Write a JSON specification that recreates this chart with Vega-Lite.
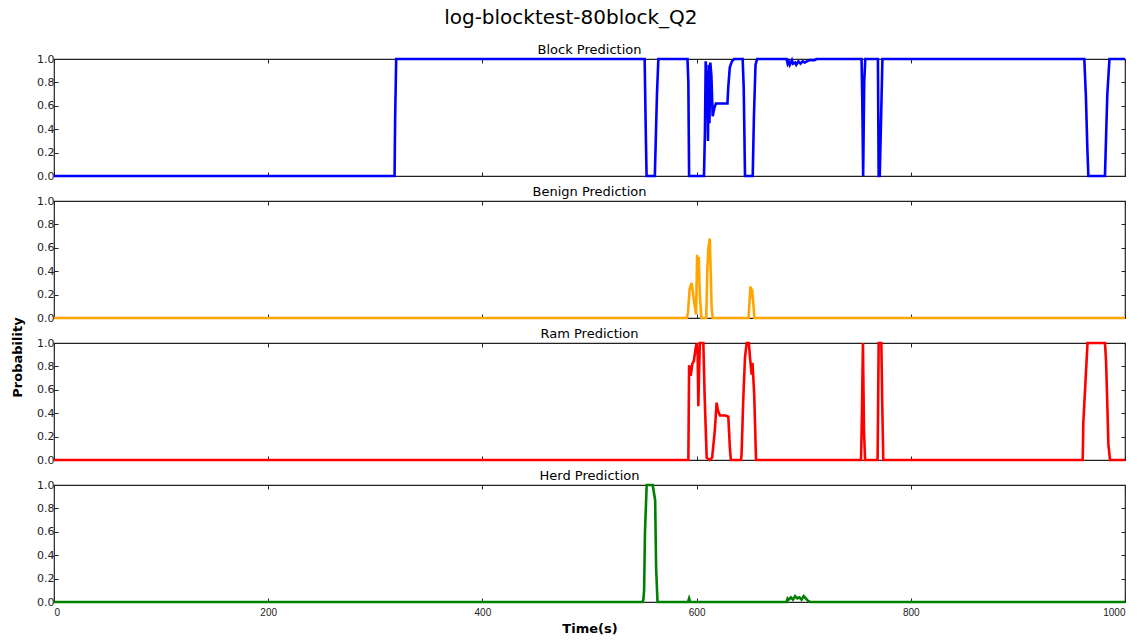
{
  "$schema": "https://vega.github.io/schema/vega-lite/v6.json",
  "padding": {"left": 10, "top": 8, "right": 5, "bottom": 5},
  "background": "white",
  "title": {"text": "log-blocktest-80block_Q2", "fontSize": 20, "fontWeight": "normal", "font": "DejaVu Sans", "anchor": "middle", "offset": 15, "color": "#000"},
  "datasets": {
    "d": [
      {"s":"block","t":0,"p":0},{"s":"block","t":318,"p":0},{"s":"block","t":318.5,"p":0.48},{"s":"block","t":319.5,"p":1},{"s":"block","t":551.5,"p":1},{"s":"block","t":552.5,"p":0.4},{"s":"block","t":553.3,"p":0},{"s":"block","t":561,"p":0},{"s":"block","t":562,"p":0.35},{"s":"block","t":563,"p":0.7},{"s":"block","t":564.3,"p":1},{"s":"block","t":591.5,"p":1},{"s":"block","t":592.3,"p":0.8},{"s":"block","t":593,"p":0},{"s":"block","t":606.9,"p":0},{"s":"block","t":607.8,"p":0.39},{"s":"block","t":608.5,"p":0.98},{"s":"block","t":609.3,"p":0.5},{"s":"block","t":610,"p":0.9},{"s":"block","t":610.6,"p":0.3},{"s":"block","t":611.3,"p":0.95},{"s":"block","t":612,"p":0.45},{"s":"block","t":612.8,"p":0.97},{"s":"block","t":613.8,"p":0.86},{"s":"block","t":615,"p":0.51},{"s":"block","t":616.5,"p":0.58},{"s":"block","t":618,"p":0.62},{"s":"block","t":628.8,"p":0.62},{"s":"block","t":629.5,"p":0.75},{"s":"block","t":631,"p":0.93},{"s":"block","t":633,"p":0.98},{"s":"block","t":635,"p":1},{"s":"block","t":643,"p":1},{"s":"block","t":644,"p":0.75},{"s":"block","t":645.2,"p":0},{"s":"block","t":652.4,"p":0},{"s":"block","t":653.5,"p":0.5},{"s":"block","t":655,"p":0.95},{"s":"block","t":656.5,"p":1},{"s":"block","t":684,"p":1},{"s":"block","t":685,"p":0.96},{"s":"block","t":686,"p":0.98},{"s":"block","t":687,"p":0.95},{"s":"block","t":689,"p":0.99},{"s":"block","t":690,"p":0.96},{"s":"block","t":692,"p":0.97},{"s":"block","t":693,"p":0.95},{"s":"block","t":695,"p":0.98},{"s":"block","t":697,"p":0.96},{"s":"block","t":699,"p":0.98},{"s":"block","t":701,"p":0.97},{"s":"block","t":703,"p":0.98},{"s":"block","t":705,"p":0.99},{"s":"block","t":710,"p":0.99},{"s":"block","t":712,"p":1},{"s":"block","t":754,"p":1},{"s":"block","t":754.7,"p":0.65},{"s":"block","t":755.5,"p":0},{"s":"block","t":756.5,"p":0.8},{"s":"block","t":757.5,"p":1},{"s":"block","t":769.3,"p":1},{"s":"block","t":770,"p":0},{"s":"block","t":771,"p":0},{"s":"block","t":772,"p":0.39},{"s":"block","t":773.5,"p":1},{"s":"block","t":962,"p":1},{"s":"block","t":963.5,"p":0.68},{"s":"block","t":964.8,"p":0.25},{"s":"block","t":965.8,"p":0},{"s":"block","t":981.3,"p":0},{"s":"block","t":982.5,"p":0.39},{"s":"block","t":983.5,"p":0.7},{"s":"block","t":985.5,"p":1},{"s":"block","t":1000,"p":1},
      {"s":"benign","t":0,"p":0},{"s":"benign","t":591,"p":0},{"s":"benign","t":592,"p":0.05},{"s":"benign","t":593.5,"p":0.25},{"s":"benign","t":595.3,"p":0.3},{"s":"benign","t":596.5,"p":0.22},{"s":"benign","t":598,"p":0.12},{"s":"benign","t":599.5,"p":0.03},{"s":"benign","t":600.5,"p":0.54},{"s":"benign","t":601.2,"p":0.35},{"s":"benign","t":602,"p":0.52},{"s":"benign","t":603,"p":0.2},{"s":"benign","t":604.5,"p":0},{"s":"benign","t":609,"p":0},{"s":"benign","t":610,"p":0.4},{"s":"benign","t":611,"p":0.6},{"s":"benign","t":612.3,"p":0.68},{"s":"benign","t":613,"p":0.45},{"s":"benign","t":614,"p":0.1},{"s":"benign","t":615,"p":0},{"s":"benign","t":648.5,"p":0},{"s":"benign","t":649.5,"p":0.15},{"s":"benign","t":650.3,"p":0.27},{"s":"benign","t":651,"p":0.2},{"s":"benign","t":652,"p":0.22},{"s":"benign","t":653,"p":0.12},{"s":"benign","t":654,"p":0},{"s":"benign","t":1000,"p":0},
      {"s":"ram","t":0,"p":0},{"s":"ram","t":592.3,"p":0},{"s":"ram","t":593,"p":0.81},{"s":"ram","t":594.5,"p":0.72},{"s":"ram","t":596,"p":0.82},{"s":"ram","t":597.5,"p":0.85},{"s":"ram","t":599,"p":0.95},{"s":"ram","t":600.1,"p":1},{"s":"ram","t":601,"p":0.9},{"s":"ram","t":601.6,"p":0.46},{"s":"ram","t":603,"p":1},{"s":"ram","t":606.3,"p":1},{"s":"ram","t":607.5,"p":0.55},{"s":"ram","t":609.4,"p":0.02},{"s":"ram","t":612,"p":0},{"s":"ram","t":614.5,"p":0.02},{"s":"ram","t":617,"p":0.25},{"s":"ram","t":618.7,"p":0.49},{"s":"ram","t":620,"p":0.42},{"s":"ram","t":621.8,"p":0.38},{"s":"ram","t":627,"p":0.38},{"s":"ram","t":629.6,"p":0.37},{"s":"ram","t":631.1,"p":0.1},{"s":"ram","t":632,"p":0},{"s":"ram","t":641.5,"p":0},{"s":"ram","t":642,"p":0.05},{"s":"ram","t":643.5,"p":0.5},{"s":"ram","t":645.2,"p":0.88},{"s":"ram","t":646.8,"p":1},{"s":"ram","t":648.8,"p":1},{"s":"ram","t":649.9,"p":0.87},{"s":"ram","t":651.4,"p":0.73},{"s":"ram","t":652.2,"p":0.83},{"s":"ram","t":653.8,"p":0.56},{"s":"ram","t":655.5,"p":0},{"s":"ram","t":753.5,"p":0},{"s":"ram","t":754.3,"p":0.35},{"s":"ram","t":755.3,"p":1},{"s":"ram","t":756.3,"p":0.25},{"s":"ram","t":757.3,"p":0},{"s":"ram","t":769,"p":0},{"s":"ram","t":770,"p":1},{"s":"ram","t":772.5,"p":1},{"s":"ram","t":773.3,"p":0.5},{"s":"ram","t":774.3,"p":0},{"s":"ram","t":960.5,"p":0},{"s":"ram","t":961.1,"p":0.32},{"s":"ram","t":963.5,"p":0.74},{"s":"ram","t":965,"p":1},{"s":"ram","t":981.3,"p":1},{"s":"ram","t":982.3,"p":0.85},{"s":"ram","t":983.2,"p":0.57},{"s":"ram","t":984.5,"p":0.13},{"s":"ram","t":986,"p":0},{"s":"ram","t":1000,"p":0},
      {"s":"herd","t":0,"p":0},{"s":"herd","t":549.5,"p":0},{"s":"herd","t":550.3,"p":0.02},{"s":"herd","t":551,"p":0.1},{"s":"herd","t":551.8,"p":0.6},{"s":"herd","t":553.4,"p":1},{"s":"herd","t":559,"p":1},{"s":"herd","t":561.3,"p":0.87},{"s":"herd","t":562.2,"p":0.29},{"s":"herd","t":563.5,"p":0},{"s":"herd","t":592,"p":0},{"s":"herd","t":593,"p":0.03},{"s":"herd","t":594,"p":0},{"s":"herd","t":684,"p":0},{"s":"herd","t":685,"p":0.03},{"s":"herd","t":686,"p":0.02},{"s":"herd","t":688,"p":0.04},{"s":"herd","t":690,"p":0.02},{"s":"herd","t":692,"p":0.05},{"s":"herd","t":694,"p":0.03},{"s":"herd","t":696,"p":0.04},{"s":"herd","t":698,"p":0.02},{"s":"herd","t":700,"p":0.05},{"s":"herd","t":702,"p":0.03},{"s":"herd","t":704,"p":0.01},{"s":"herd","t":706,"p":0},{"s":"herd","t":1000,"p":0}
    ]
  },
  "data": {"name": "d"},
  "bounds": "flush",
  "spacing": 25,
  "vconcat": [
    {
      "title": "Block Prediction",
      "width": 1071, "height": 117,
      "transform": [{"filter": "datum.s === 'block'"}],
      "layer": [
        {"mark": {"type": "line", "color": "#0000ff", "strokeWidth": 2.6},
         "encoding": {
           "x": {"field": "t", "type": "quantitative", "scale": {"domain": [0, 1000], "nice": false, "zero": false}, "axis": {"orient": "bottom", "values": [0,200,400,600,800,1000], "labels": false, "title": null}},
           "y": {"field": "p", "type": "quantitative", "scale": {"domain": [0, 1], "nice": false}, "axis": {"orient": "left", "values": [0,0.2,0.4,0.6,0.8,1], "format": ".1f", "title": null}}}},
        {"mark": {"type": "line", "opacity": 0},
         "encoding": {
           "x": {"field": "t", "type": "quantitative", "axis": {"orient": "top", "values": [0,200,400,600,800,1000], "labels": false, "title": null}},
           "y": {"field": "p", "type": "quantitative", "axis": {"orient": "right", "values": [0,0.2,0.4,0.6,0.8,1], "labels": false, "title": null}}}}
      ],
      "resolve": {"axis": {"x": "independent", "y": "independent"}}
    },
    {
      "title": "Benign Prediction",
      "width": 1071, "height": 117,
      "transform": [{"filter": "datum.s === 'benign'"}],
      "layer": [
        {"mark": {"type": "line", "color": "#ffa500", "strokeWidth": 2.6},
         "encoding": {
           "x": {"field": "t", "type": "quantitative", "scale": {"domain": [0, 1000], "nice": false, "zero": false}, "axis": {"orient": "bottom", "values": [0,200,400,600,800,1000], "labels": false, "title": null}},
           "y": {"field": "p", "type": "quantitative", "scale": {"domain": [0, 1], "nice": false}, "axis": {"orient": "left", "values": [0,0.2,0.4,0.6,0.8,1], "format": ".1f", "title": "Probability", "titleY": 156, "titleFontWeight": "bold", "titleFontSize": 13, "titlePadding": 12}}}},
        {"mark": {"type": "line", "opacity": 0},
         "encoding": {
           "x": {"field": "t", "type": "quantitative", "axis": {"orient": "top", "values": [0,200,400,600,800,1000], "labels": false, "title": null}},
           "y": {"field": "p", "type": "quantitative", "axis": {"orient": "right", "values": [0,0.2,0.4,0.6,0.8,1], "labels": false, "title": null}}}}
      ],
      "resolve": {"axis": {"x": "independent", "y": "independent"}}
    },
    {
      "title": "Ram Prediction",
      "width": 1071, "height": 117,
      "transform": [{"filter": "datum.s === 'ram'"}],
      "layer": [
        {"mark": {"type": "line", "color": "#ff0000", "strokeWidth": 2.6},
         "encoding": {
           "x": {"field": "t", "type": "quantitative", "scale": {"domain": [0, 1000], "nice": false, "zero": false}, "axis": {"orient": "bottom", "values": [0,200,400,600,800,1000], "labels": false, "title": null}},
           "y": {"field": "p", "type": "quantitative", "scale": {"domain": [0, 1], "nice": false}, "axis": {"orient": "left", "values": [0,0.2,0.4,0.6,0.8,1], "format": ".1f", "title": null}}}},
        {"mark": {"type": "line", "opacity": 0},
         "encoding": {
           "x": {"field": "t", "type": "quantitative", "axis": {"orient": "top", "values": [0,200,400,600,800,1000], "labels": false, "title": null}},
           "y": {"field": "p", "type": "quantitative", "axis": {"orient": "right", "values": [0,0.2,0.4,0.6,0.8,1], "labels": false, "title": null}}}}
      ],
      "resolve": {"axis": {"x": "independent", "y": "independent"}}
    },
    {
      "title": "Herd Prediction",
      "width": 1071, "height": 117,
      "transform": [{"filter": "datum.s === 'herd'"}],
      "layer": [
        {"mark": {"type": "line", "color": "#008000", "strokeWidth": 2.6},
         "encoding": {
           "x": {"field": "t", "type": "quantitative", "scale": {"domain": [0, 1000], "nice": false, "zero": false}, "axis": {"orient": "bottom", "values": [0,200,400,600,800,1000], "format": "d", "labelFontSize": 10, "labelFont": "Liberation Sans", "labelPadding": 9, "title": "Time(s)", "titleFontWeight": "bold", "titleFontSize": 13, "titlePadding": 5}},
           "y": {"field": "p", "type": "quantitative", "scale": {"domain": [0, 1], "nice": false}, "axis": {"orient": "left", "values": [0,0.2,0.4,0.6,0.8,1], "format": ".1f", "title": null}}}},
        {"mark": {"type": "line", "opacity": 0},
         "encoding": {
           "x": {"field": "t", "type": "quantitative", "axis": {"orient": "top", "values": [0,200,400,600,800,1000], "labels": false, "title": null}},
           "y": {"field": "p", "type": "quantitative", "axis": {"orient": "right", "values": [0,0.2,0.4,0.6,0.8,1], "labels": false, "title": null}}}}
      ],
      "resolve": {"axis": {"x": "independent", "y": "independent"}}
    }
  ],
  "config": {
    "view": {"stroke": "#222", "strokeWidth": 1.2},
    "axis": {"domain": false, "grid": false, "tickSize": -4, "tickColor": "#222", "tickWidth": 1, "labelFont": "DejaVu Sans", "labelFontSize": 11, "labelColor": "#222", "labelPadding": 4, "titleFont": "DejaVu Sans", "titleColor": "#000"},
    "title": {"font": "DejaVu Sans", "fontSize": 13, "fontWeight": "normal", "offset": -4, "color": "#000"}
  }
}
